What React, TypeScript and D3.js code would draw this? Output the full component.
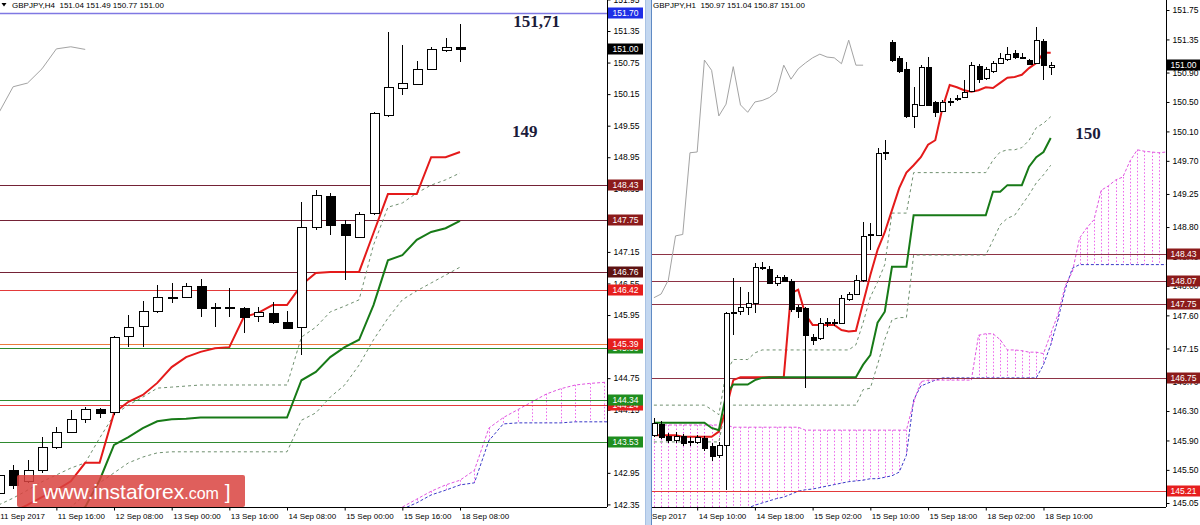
import { useEffect, useRef } from "react"
import * as d3 from "d3"

// ---------- GBPJPY H4 (left chart) ----------
const H4_HEADER = "GBPJPY,H4  151.04 151.49 150.77 151.00"
const H4_OPEN = [142.55, 143.00, 142.80, 143.00, 143.44, 143.73, 143.97, 144.16, 144.11, 145.55, 145.74, 146.03, 146.28, 146.29, 146.50, 146.09, 146.10, 146.08, 145.93, 145.99, 145.82, 145.72, 147.62, 148.21, 147.68, 147.43, 147.89, 149.75, 150.27, 150.34, 150.63, 150.99, 151.04]
const H4_HIGH = [142.95, 143.10, 143.19, 143.63, 143.82, 144.15, 144.20, 144.18, 145.56, 145.95, 146.22, 146.52, 146.56, 146.56, 146.64, 146.18, 146.46, 146.10, 146.10, 146.19, 146.03, 148.10, 148.33, 148.27, 147.76, 147.91, 149.81, 151.33, 151.08, 150.78, 151.05, 151.22, 151.49]
const H4_LOW = [142.45, 142.65, 142.75, 142.95, 143.40, 143.70, 143.90, 144.00, 144.05, 145.34, 145.34, 145.99, 146.18, 146.28, 145.91, 145.72, 145.91, 145.61, 145.82, 145.78, 145.68, 145.19, 147.57, 147.47, 146.62, 147.41, 147.85, 149.72, 150.13, 150.34, 150.60, 150.96, 150.77]
const H4_CLOSE = [142.90, 142.72, 143.00, 143.44, 143.73, 143.97, 144.16, 144.09, 145.53, 145.72, 146.03, 146.29, 146.30, 146.50, 146.08, 146.10, 146.08, 145.91, 146.01, 145.82, 145.70, 147.62, 148.23, 147.66, 147.47, 147.87, 149.79, 150.29, 150.36, 150.63, 151.01, 151.05, 151.00]
const H4_TENKAN = [142.10, 142.21, 142.34, 142.49, 142.62, 142.79, 143.14, 143.14, 144.09, 144.30, 144.43, 144.66, 144.96, 145.15, 145.25, 145.32, 145.34, 145.91, 145.99, 146.14, 146.14, 146.52, 146.75, 146.77, 146.77, 146.77, 147.51, 148.25, 148.25, 148.25, 148.95, 148.95, 149.05]
const H4_KIJUN = [142.15, 142.15, 142.15, 142.15, 142.15, 142.15, 142.30, 142.81, 143.48, 143.63, 143.80, 143.93, 143.97, 143.98, 144.00, 144.00, 144.00, 144.00, 144.00, 144.00, 144.00, 144.71, 144.87, 145.15, 145.34, 145.48, 146.14, 146.99, 147.09, 147.38, 147.53, 147.60, 147.74]
const H4_DASH_UP = [142.34, 142.47, 142.62, 142.78, 142.91, 143.04, 143.14, 143.61, 144.05, 144.24, 144.39, 144.56, 144.58, 144.60, 144.62, 144.62, 144.62, 144.62, 144.62, 144.62, 144.62, 145.53, 145.72, 146.01, 146.12, 146.24, 147.28, 148.00, 148.08, 148.27, 148.42, 148.52, 148.65]
const H4_DASH_LOW = [142.15, 142.15, 142.15, 142.15, 142.15, 142.30, 142.53, 142.76, 142.95, 143.14, 143.25, 143.33, 143.35, 143.35, 143.35, 143.35, 143.35, 143.35, 143.35, 143.35, 143.35, 143.95, 144.09, 144.39, 144.62, 145.00, 145.48, 145.89, 146.24, 146.41, 146.56, 146.71, 146.86]
const H4_CLOUD_START = 28
const H4_SPAN_A = [142.30, 142.45, 142.60, 142.72, 142.81, 143.00, 143.80, 144.00, 144.15, 144.30, 144.45, 144.55, 144.62, 144.65, 144.67, 144.68]
const H4_SPAN_B = [142.26, 142.38, 142.53, 142.62, 142.72, 142.76, 143.56, 143.88, 143.90, 143.90, 143.90, 143.90, 143.92, 143.92, 143.92, 143.92]
const H4_PRICE_TICKS = [142.35, 142.95, 143.55, 144.15, 144.75, 145.35, 145.95, 146.55, 147.15, 147.75, 148.35, 148.95, 149.55, 150.15, 150.75, 151.35, 151.95]
const H4_TIME_POS = [0, 4, 8, 12, 16, 20, 24, 28, 32]
const H4_TIME_LABELS = ["11 Sep 2017", "11 Sep 16:00", "12 Sep 08:00", "13 Sep 00:00", "13 Sep 16:00", "14 Sep 08:00", "15 Sep 00:00", "15 Sep 16:00", "18 Sep 08:00"]
const H4_LEVELS = [151.70, 148.43, 147.75, 146.76, 146.42, 145.33, 145.39, 144.24, 144.34, 143.53]
const H4_LEVEL_KINDS = ["blue", "maroon", "maroon", "darkMaroon", "red", "green", "orange", "red", "green", "green"]
const H4_NOTES = ["151,71", "149"]
const H4_NOTE_BAR = [35.7, 35.6]
const H4_NOTE_PRICE = [151.43, 149.33]

// ---------- GBPJPY H1 (right chart) ----------
const H1_HEADER = "GBPJPY,H1  150.97 151.04 150.87 151.00"
const H1_OPEN = [145.98, 146.12, 145.96, 145.90, 145.96, 145.87, 145.88, 145.94, 145.82, 145.70, 145.84, 147.63, 147.65, 147.71, 147.77, 148.26, 148.23, 148.04, 148.12, 148.07, 147.72, 147.70, 147.31, 147.29, 147.49, 147.50, 147.50, 147.82, 147.89, 148.08, 148.68, 148.70, 149.81, 151.32, 151.10, 150.95, 150.31, 150.47, 150.98, 150.50, 150.38, 150.50, 150.54, 150.57, 150.65, 150.99, 150.83, 150.92, 151.03, 151.08, 151.17, 151.11, 151.07, 151.03, 151.33, 150.97]
const H1_HIGH = [146.20, 146.16, 146.00, 146.02, 145.99, 145.95, 145.98, 145.96, 145.86, 145.88, 147.65, 148.11, 147.99, 147.92, 148.31, 148.33, 148.27, 148.15, 148.15, 148.10, 147.74, 147.72, 147.35, 147.57, 147.57, 147.55, 147.88, 147.92, 148.15, 148.87, 148.86, 149.87, 149.98, 151.34, 151.13, 151.04, 150.70, 151.00, 151.11, 150.52, 150.53, 150.55, 150.59, 150.80, 151.04, 151.01, 150.97, 151.06, 151.17, 151.25, 151.21, 151.17, 151.09, 151.52, 151.36, 151.04]
const H1_LOW = [145.95, 145.92, 145.86, 145.87, 145.82, 145.83, 145.85, 145.76, 145.62, 145.66, 145.23, 147.33, 147.61, 147.61, 147.63, 148.22, 148.02, 148.00, 148.05, 147.65, 147.57, 146.61, 147.20, 147.26, 147.44, 147.46, 147.48, 147.80, 147.87, 148.06, 148.49, 148.68, 149.71, 151.05, 150.90, 150.28, 150.15, 150.45, 150.44, 150.30, 150.36, 150.45, 150.51, 150.55, 150.63, 150.76, 150.80, 150.90, 151.01, 151.06, 151.09, 151.08, 151.00, 151.01, 150.80, 150.87]
const H1_CLOSE = [146.14, 145.95, 145.90, 145.96, 145.86, 145.89, 145.95, 145.80, 145.68, 145.84, 147.63, 147.65, 147.71, 147.77, 148.26, 148.25, 148.04, 148.12, 148.07, 147.69, 147.66, 147.33, 147.27, 147.50, 147.51, 147.51, 147.84, 147.89, 148.08, 148.68, 148.70, 149.81, 149.82, 151.07, 150.93, 150.31, 150.47, 150.98, 150.46, 150.36, 150.50, 150.52, 150.56, 150.64, 151.00, 150.81, 150.95, 151.03, 151.10, 151.15, 151.11, 151.10, 151.02, 151.34, 151.00, 151.00]
const H1_TENKAN = [145.97, 145.97, 145.97, 145.97, 145.95, 145.95, 145.95, 145.95, 145.95, 146.02, 146.32, 146.72, 146.76, 146.76, 146.76, 146.76, 146.76, 146.76, 146.76, 147.90, 147.95, 147.61, 147.47, 147.47, 147.47, 147.47, 147.40, 147.38, 147.39, 147.77, 148.15, 148.49, 148.73, 149.03, 149.33, 149.54, 149.64, 149.75, 149.92, 149.98, 150.42, 150.73, 150.70, 150.66, 150.64, 150.66, 150.70, 150.69, 150.76, 150.83, 150.84, 150.87, 150.96, 151.03, 151.17, 151.17]
const H1_KIJUN = [146.14, 146.14, 146.14, 146.14, 146.14, 146.14, 146.14, 146.14, 146.07, 146.04, 146.52, 146.66, 146.66, 146.66, 146.72, 146.75, 146.76, 146.76, 146.76, 146.76, 146.76, 146.76, 146.76, 146.76, 146.76, 146.76, 146.76, 146.76, 146.76, 146.93, 147.06, 147.50, 147.65, 148.26, 148.26, 148.26, 148.96, 148.96, 148.96, 148.96, 148.96, 148.96, 148.96, 148.96, 148.96, 148.96, 148.96, 149.28, 149.28, 149.37, 149.37, 149.37, 149.62, 149.75, 149.82, 150.01]
const H1_DASH_UP = [146.38, 146.38, 146.38, 146.38, 146.38, 146.38, 146.38, 146.38, 146.32, 146.25, 146.82, 147.00, 147.00, 147.00, 147.09, 147.13, 147.13, 147.13, 147.13, 147.13, 147.13, 147.13, 147.13, 147.13, 147.13, 147.13, 147.13, 147.13, 147.20, 147.50, 147.85, 148.05, 148.29, 148.99, 148.99, 148.99, 149.54, 149.54, 149.54, 149.54, 149.54, 149.54, 149.54, 149.54, 149.54, 149.54, 149.54, 149.71, 149.82, 149.85, 149.85, 149.88, 149.98, 150.15, 150.21, 150.30]
const H1_DASH_LOW = [145.88, 145.88, 145.88, 145.88, 145.88, 145.88, 145.88, 145.88, 145.88, 145.88, 146.36, 146.38, 146.38, 146.38, 146.38, 146.38, 146.38, 146.38, 146.38, 146.38, 146.38, 146.38, 146.38, 146.38, 146.38, 146.38, 146.38, 146.38, 146.38, 146.59, 146.61, 146.93, 147.27, 147.54, 147.57, 147.57, 148.42, 148.42, 148.42, 148.42, 148.42, 148.42, 148.42, 148.42, 148.42, 148.42, 148.42, 148.62, 148.83, 148.92, 148.96, 149.10, 149.24, 149.40, 149.51, 149.64]
const H1_CLOUD_START = 0
const H1_SPAN_A = [146.11, 146.11, 146.11, 146.11, 146.11, 146.11, 146.11, 146.11, 146.11, 146.11, 146.11, 146.08, 146.08, 146.08, 146.08, 146.08, 146.08, 146.08, 146.08, 146.08, 146.08, 146.04, 146.04, 146.04, 146.04, 146.04, 146.04, 146.04, 146.04, 146.04, 146.04, 146.04, 146.04, 146.04, 146.04, 146.04, 146.42, 146.70, 146.72, 146.72, 146.72, 146.72, 146.72, 146.72, 146.72, 147.33, 147.35, 147.35, 147.27, 147.13, 147.13, 147.12, 147.10, 147.10, 147.08, 147.35, 147.61, 148.00, 148.19, 148.65, 148.79, 148.90, 149.30, 149.36, 149.44, 149.48, 149.70, 149.85, 149.83, 149.82, 149.81, 149.82]
const H1_SPAN_B = [144.89, 144.89, 144.89, 144.89, 144.89, 144.89, 144.89, 144.89, 144.89, 144.89, 144.89, 144.89, 144.89, 144.98, 145.02, 145.05, 145.08, 145.11, 145.13, 145.17, 145.21, 145.23, 145.24, 145.26, 145.28, 145.30, 145.32, 145.34, 145.35, 145.36, 145.38, 145.38, 145.40, 145.42, 145.47, 145.70, 146.45, 146.64, 146.68, 146.72, 146.75, 146.75, 146.75, 146.75, 146.75, 146.75, 146.75, 146.75, 146.75, 146.75, 146.75, 146.75, 146.75, 146.75, 146.93, 147.20, 147.54, 147.95, 148.24, 148.29, 148.29, 148.29, 148.29, 148.29, 148.29, 148.29, 148.29, 148.29, 148.29, 148.29, 148.29, 148.29]
const H1_PRICE_TICKS = [145.05, 145.50, 145.90, 146.30, 146.70, 147.15, 147.60, 148.00, 148.40, 148.80, 149.25, 149.70, 150.10, 150.50, 150.90, 151.35, 151.75]
const H1_TIME_POS = [-2, 6, 14, 22, 30, 38, 46, 54]
const H1_TIME_LABELS = ["14 Sep 2017", "14 Sep 10:00", "14 Sep 18:00", "15 Sep 02:00", "15 Sep 10:00", "15 Sep 18:00", "18 Sep 02:00", "18 Sep 10:00"]
const H1_LEVELS = [148.43, 148.07, 147.75, 146.75, 145.21]
const H1_LEVEL_KINDS = ["maroonR", "maroonR", "maroonR", "maroonR", "red"]
const H1_NOTES = ["150"]
const H1_NOTE_BAR = [58.4]
const H1_NOTE_PRICE = [150.0]

const CHIKOU_SHIFT = 26

const LEVEL_STYLE: Record<string, { line: string; tag: string }> = {
  blue: { line: "#7f78e3", tag: "#1f2fe6" },
  maroon: { line: "#742236", tag: "#8c1b1b" },
  maroonR: { line: "#8e3345", tag: "#8c1b1b" },
  darkMaroon: { line: "#742236", tag: "#5e1212" },
  red: { line: "#e33a3a", tag: "#e61e1e" },
  orange: { line: "#ea7b3c", tag: "#e61e1e" },
  green: { line: "#2f8a2f", tag: "#1f8e1f" },
}

const SANS = "'Liberation Sans', Arial, sans-serif"

type PanelSpec = {
  id: string
  plotL: number
  plotR: number
  bottom: number
  tagW: number
  bodyW: number
  x: d3.ScaleLinear<number, number>
  y: d3.ScaleLinear<number, number>
  header: string
  arrow: boolean
  open: number[]; high: number[]; low: number[]; close: number[]
  tenkan: number[]; kijun: number[]; dashUp: number[]; dashLow: number[]
  cloudStart: number; spanA: number[]; spanB: number[]
  priceTicks: number[]
  timePos: number[]; timeLabels: string[]
  levels: number[]; kinds: string[]
  notes: string[]; noteBar: number[]; notePrice: number[]
}

function drawPanel(svg: d3.Selection<SVGSVGElement, unknown, null, undefined>, p: PanelSpec) {
  const { x, y } = p
  const defs = svg.append("defs")
  defs.append("clipPath").attr("id", `plot-${p.id}`)
    .append("rect").attr("x", p.plotL).attr("y", 0).attr("width", p.plotR - p.plotL).attr("height", p.bottom)
  defs.append("clipPath").attr("id", `time-${p.id}`)
    .append("rect").attr("x", p.plotL).attr("y", p.bottom).attr("width", p.plotR - p.plotL + 40).attr("height", 20)

  const g = svg.append("g").attr("clip-path", `url(#plot-${p.id})`)

  // kumo (cloud) hatching + borders
  const cloudIdx = d3.range(p.spanA.length)
  g.append("g").selectAll("line").data(cloudIdx).join("line")
    .attr("x1", k => Math.round(x(k + p.cloudStart)) + 0.5)
    .attr("x2", k => Math.round(x(k + p.cloudStart)) + 0.5)
    .attr("y1", k => y(p.spanA[k]))
    .attr("y2", k => y(p.spanB[k]))
    .attr("stroke", "#ec66ec")
    .attr("stroke-dasharray", "1.5,2")
  const span = d3.line<number>().x((_, k) => x(k + p.cloudStart)).y(v => y(v))
  g.append("path").attr("d", span(p.spanB)).attr("fill", "none")
    .attr("stroke", "#3a3ac8").attr("stroke-dasharray", "3,2")
  g.append("path").attr("d", span(p.spanA)).attr("fill", "none")
    .attr("stroke", "#e055e0").attr("stroke-dasharray", "3,2")

  // horizontal levels
  g.append("g").selectAll("line").data(p.levels).join("line")
    .attr("x1", p.plotL).attr("x2", p.plotR)
    .attr("y1", v => Math.round(y(v)) + 0.5).attr("y2", v => Math.round(y(v)) + 0.5)
    .attr("stroke", (_, k) => LEVEL_STYLE[p.kinds[k]].line)
    .attr("stroke-width", (_, k) => (p.kinds[k] === "blue" ? 1.4 : 1))

  const byBar = d3.line<number>().x((_, i) => x(i)).y(v => y(v))

  // dashed helper lines
  for (const s of [p.dashUp, p.dashLow]) {
    g.append("path").attr("d", byBar(s)).attr("fill", "none")
      .attr("stroke", "#6f8f6f").attr("stroke-dasharray", "3,3")
  }

  // chikou span: closes drawn 26 bars back
  g.append("path").attr("d", byBar(p.close.slice(CHIKOU_SHIFT))).attr("fill", "none")
    .attr("stroke", "#a3a3a3").attr("stroke-width", 1)

  g.append("path").attr("d", byBar(p.tenkan)).attr("fill", "none")
    .attr("stroke", "#e41a1a").attr("stroke-width", 2)
  g.append("path").attr("d", byBar(p.kijun)).attr("fill", "none")
    .attr("stroke", "#177a17").attr("stroke-width", 2)

  // candles
  const bars = d3.range(p.open.length)
  const cx = (i: number) => Math.round(x(i)) + 0.5
  g.append("g").selectAll("line").data(bars).join("line")
    .attr("x1", cx).attr("x2", cx)
    .attr("y1", i => y(p.high[i])).attr("y2", i => y(p.low[i]))
    .attr("stroke", "#000").attr("shape-rendering", "crispEdges")
  g.append("g").selectAll("rect").data(bars).join("rect")
    .attr("x", i => cx(i) - p.bodyW / 2)
    .attr("y", i => Math.round(y(Math.max(p.open[i], p.close[i]))) + 0.5)
    .attr("width", p.bodyW)
    .attr("height", i => Math.max(1, Math.round(Math.abs(y(p.open[i]) - y(p.close[i])))))
    .attr("fill", i => (p.close[i] >= p.open[i] ? "#fff" : "#000"))
    .attr("stroke", "#000").attr("shape-rendering", "crispEdges")

  // frame
  svg.append("line").attr("x1", p.plotR + 0.5).attr("x2", p.plotR + 0.5).attr("y1", 0).attr("y2", p.bottom)
    .attr("stroke", "#000")
  svg.append("line").attr("x1", p.plotL).attr("x2", p.plotR).attr("y1", p.bottom + 0.5).attr("y2", p.bottom + 0.5)
    .attr("stroke", "#000")

  // price axis
  const ay = svg.append("g").attr("transform", `translate(${p.plotR + 0.5},0)`)
    .call(d3.axisRight(y).tickValues(p.priceTicks).tickSize(3).tickPadding(3).tickFormat(d3.format(".2f")))
  ay.select(".domain").remove()
  ay.selectAll("text").attr("font-family", SANS).attr("font-size", 8.5).attr("fill", "#000")

  // time axis
  const tScale = d3.scaleLinear().domain(x.domain()).range(x.range())
  const ax = svg.append("g").attr("clip-path", `url(#time-${p.id})`)
    .append("g").attr("transform", `translate(0,${p.bottom + 0.5})`)
    .call(d3.axisBottom(tScale).tickValues(p.timePos).tickSize(3).tickPadding(3)
      .tickFormat((_, k) => p.timeLabels[k]))
  ax.select(".domain").remove()
  ax.selectAll("text").attr("text-anchor", "start").attr("dx", 1)
    .attr("font-family", SANS).attr("font-size", 8).attr("fill", "#000")

  // price tags
  const tag = (v: number, fill: string) => {
    const yy = Math.round(y(v))
    svg.append("rect").attr("x", p.plotR + 1).attr("y", yy - 5.5).attr("width", p.tagW).attr("height", 11)
      .attr("fill", fill)
    svg.append("text").attr("x", p.plotR + 1 + p.tagW / 2).attr("y", yy + 3.2)
      .attr("text-anchor", "middle").attr("font-family", SANS).attr("font-size", 8.5)
      .attr("fill", "#fff").text(v.toFixed(2))
  }
  p.levels.forEach((v, k) => tag(v, LEVEL_STYLE[p.kinds[k]].tag))
  tag(p.close[p.close.length - 1], "#000")

  // header
  if (p.arrow) {
    svg.append("path").attr("d", `M${p.plotL + 1.5},3 L${p.plotL + 6.5},3 L${p.plotL + 4},6.5 Z`).attr("fill", "#000")
  }
  svg.append("text").attr("x", p.plotL + (p.arrow ? 12 : 1)).attr("y", 8)
    .attr("font-family", SANS).attr("font-size", 8).attr("fill", "#000")
    .attr("xml:space", "preserve").style("white-space", "pre").text(p.header)

  // analyst notes
  p.notes.forEach((t, k) => {
    svg.append("text").attr("x", x(p.noteBar[k])).attr("y", y(p.notePrice[k]))
      .attr("font-family", "'Liberation Serif', 'Times New Roman', serif").attr("font-weight", "bold")
      .attr("font-size", 17).attr("fill", "#1b1b3a").text(t)
  })
}

export default function App() {
  const svgRef = useRef<SVGSVGElement>(null)

  useEffect(() => {
    if (!svgRef.current) return
    const svg = d3.select(svgRef.current)
    svg.selectAll("*").remove()

    svg.append("rect").attr("width", 1200).attr("height", 525).attr("fill", "#fff")

    drawPanel(svg, {
      id: "h4", plotL: 0, plotR: 607, bottom: 507, tagW: 35, bodyW: 9,
      x: d3.scaleLinear().domain([0, H4_OPEN.length - 1]).range([-1.3, 460]),
      y: d3.scaleLinear().domain([142.35, 151.35]).range([504.4, 31]),
      header: H4_HEADER, arrow: true,
      open: H4_OPEN, high: H4_HIGH, low: H4_LOW, close: H4_CLOSE,
      tenkan: H4_TENKAN, kijun: H4_KIJUN, dashUp: H4_DASH_UP, dashLow: H4_DASH_LOW,
      cloudStart: H4_CLOUD_START, spanA: H4_SPAN_A, spanB: H4_SPAN_B,
      priceTicks: H4_PRICE_TICKS, timePos: H4_TIME_POS, timeLabels: H4_TIME_LABELS,
      levels: H4_LEVELS, kinds: H4_LEVEL_KINDS,
      notes: H4_NOTES, noteBar: H4_NOTE_BAR, notePrice: H4_NOTE_PRICE,
    })

    // separator between the two chart windows
    svg.append("rect").attr("x", 645).attr("y", 0).attr("width", 6).attr("height", 525).attr("fill", "#c3d7f0")
    svg.append("line").attr("x1", 645.5).attr("x2", 645.5).attr("y1", 0).attr("y2", 525).attr("stroke", "#a9c2e3")
    svg.append("line").attr("x1", 651.5).attr("x2", 651.5).attr("y1", 0).attr("y2", 525).attr("stroke", "#5f8ac4")

    drawPanel(svg, {
      id: "h1", plotL: 652, plotR: 1166, bottom: 507, tagW: 33, bodyW: 5,
      x: d3.scaleLinear().domain([0, H1_OPEN.length - 1]).range([653.9, 1050.7]),
      y: d3.scaleLinear().domain([145.05, 151.75]).range([503, 10]),
      header: H1_HEADER, arrow: false,
      open: H1_OPEN, high: H1_HIGH, low: H1_LOW, close: H1_CLOSE,
      tenkan: H1_TENKAN, kijun: H1_KIJUN, dashUp: H1_DASH_UP, dashLow: H1_DASH_LOW,
      cloudStart: H1_CLOUD_START, spanA: H1_SPAN_A, spanB: H1_SPAN_B,
      priceTicks: H1_PRICE_TICKS, timePos: H1_TIME_POS, timeLabels: H1_TIME_LABELS,
      levels: H1_LEVELS, kinds: H1_LEVEL_KINDS,
      notes: H1_NOTES, noteBar: H1_NOTE_BAR, notePrice: H1_NOTE_PRICE,
    })

    // watermark
    const wm = svg.append("g")
    wm.append("rect").attr("x", 17).attr("y", 475).attr("width", 228).attr("height", 32).attr("rx", 2)
      .attr("fill", "#d9433f").attr("opacity", 0.85)
    const t = wm.append("text").attr("x", 131).attr("y", 499).attr("text-anchor", "middle")
      .attr("font-family", SANS).attr("font-size", 21).attr("fill", "#fff")
    t.append("tspan").text("[ www.instaforex")
    t.append("tspan").attr("font-size", 16).text(".com")
    t.append("tspan").text(" ]")
  }, [])

  return (
    <div style={{ position: "absolute", left: 0, top: 0, width: 1200, height: 525, background: "#fff" }}>
      <svg ref={svgRef} width={1200} height={525} style={{ display: "block" }} />
    </div>
  )
}
